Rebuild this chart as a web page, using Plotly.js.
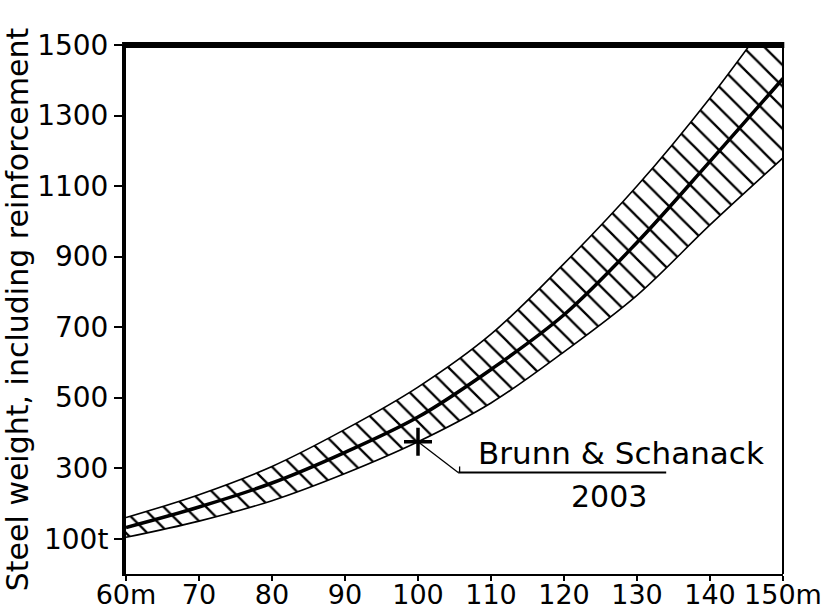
<!DOCTYPE html>
<html>
<head>
<meta charset="utf-8">
<script src="https://cdn.plot.ly/plotly-3.0.1.min.js"></script>
<style>html,body{margin:0;padding:0;background:#fff;}#chart{width:830px;height:612px;}</style>
</head>
<body>
<div id="chart"></div>
<script>
// Span (m)
const spans = [60, 70, 80, 90, 100, 110, 120, 130, 140, 150];
// Steel weight (t): mean curve and band limits
const centerWeight = [132, 190, 258, 345, 445, 580, 735, 940, 1170, 1405];
const upperWeight  = [160, 225, 305, 410, 530, 680, 880, 1100, 1350, 1630];
const lowerWeight  = [104, 150, 208, 285, 375, 485, 630, 790, 990, 1180];
// Reference point Brunn & Schanack 2003
const refSpan = [100];
const refWeight = [375];
// Tick labels
const xTickVals = [60, 70, 80, 90, 100, 110, 120, 130, 140, 150];
const xTickText = ['60m', '70', '80', '90', '100', '110', '120', '130', '140', '150m'];
const yTickVals = [100, 300, 500, 700, 900, 1100, 1300, 1500];
const yTickText = ['100t', '300', '500', '700', '900', '1100', '1300', '1500'];

const FONT = 'DejaVu Sans, Liberation Sans, Arial, sans-serif';

const traces = [
  {
    x: spans, y: lowerWeight, type: 'scatter', mode: 'lines',
    line: {color: 'black', width: 1.6, shape: 'spline'},
    hoverinfo: 'skip', showlegend: false
  },
  {
    x: spans, y: upperWeight, type: 'scatter', mode: 'lines',
    line: {color: 'black', width: 1.6, shape: 'spline'},
    fill: 'tonexty', fillcolor: 'white',
    fillpattern: {shape: '\\', size: 15, solidity: 0.15, fgcolor: 'black', bgcolor: 'white', fillmode: 'replace'},
    hoverinfo: 'skip', showlegend: false
  },
  {
    x: spans, y: centerWeight, type: 'scatter', mode: 'lines',
    line: {color: 'black', width: 3.5, shape: 'spline'},
    showlegend: false
  },
  {
    x: refSpan, y: refWeight, type: 'scatter', mode: 'markers',
    marker: {symbol: 'cross-thin', size: 20, color: 'black', line: {color: 'black', width: 3.5}},
    showlegend: false
  }
];

const layout = {
  width: 830, height: 612,
  margin: {l: 126, r: 47, t: 45, b: 38, pad: 0},
  paper_bgcolor: 'white', plot_bgcolor: 'white',
  font: {family: FONT, color: 'black', size: 28},
  showlegend: false,
  xaxis: {
    range: [60, 150], tickmode: 'array', tickvals: xTickVals, ticktext: xTickText,
    showgrid: false, zeroline: false, showline: true, linecolor: 'black', linewidth: 2,
    ticks: 'outside', ticklen: 5, tickwidth: 2, tickcolor: 'black',
    ticklabelstandoff: -9,
    tickfont: {family: FONT, size: 27, color: 'black'}
  },
  yaxis: {
    range: [0, 1500], tickmode: 'array', tickvals: yTickVals, ticktext: yTickText,
    showgrid: false, zeroline: false, showline: true, linecolor: 'black', linewidth: 4,
    ticks: 'outside', ticklen: 8, tickwidth: 2, tickcolor: 'black',
    tickfont: {family: FONT, size: 28, color: 'black'},
    title: {text: 'Steel weight, including reinforcement', font: {family: FONT, size: 30, color: 'black'}, standoff: 4}
  },
  shapes: [
    {type: 'line', xref: 'paper', yref: 'paper', x0: -0.006, x1: 1.002, y0: 1, y1: 1, line: {color: 'black', width: 6}},
    {type: 'line', xref: 'paper', yref: 'paper', x0: 1, x1: 1, y0: 0, y1: 1, line: {color: 'black', width: 2}},
    {type: 'line', xref: 'x', yref: 'y', x0: refSpan[0], y0: refWeight[0], x1: 105.5, y1: 288, line: {color: 'black', width: 1.3}},
    {type: 'line', xref: 'x', yref: 'y', x0: 105.5, y0: 288, x1: 134, y1: 288, line: {color: 'black', width: 2}},
    {type: 'line', xref: 'x', yref: 'y', x0: 105.7, y0: 288, x1: 105.7, y1: 305, line: {color: 'black', width: 1.3}}
  ],
  annotations: [
    {xref: 'x', yref: 'y', x: 127.8, y: 342, text: 'Brunn &amp; Schanack', showarrow: false,
     font: {family: FONT, size: 31, color: 'black'}, xanchor: 'center', yanchor: 'middle'},
    {xref: 'x', yref: 'y', x: 126.1, y: 220, text: '2003', showarrow: false,
     font: {family: FONT, size: 30, color: 'black'}, xanchor: 'center', yanchor: 'middle'}
  ]
};

Plotly.newPlot('chart', traces, layout, {displayModeBar: false, staticPlot: true});
</script>
</body>
</html>
